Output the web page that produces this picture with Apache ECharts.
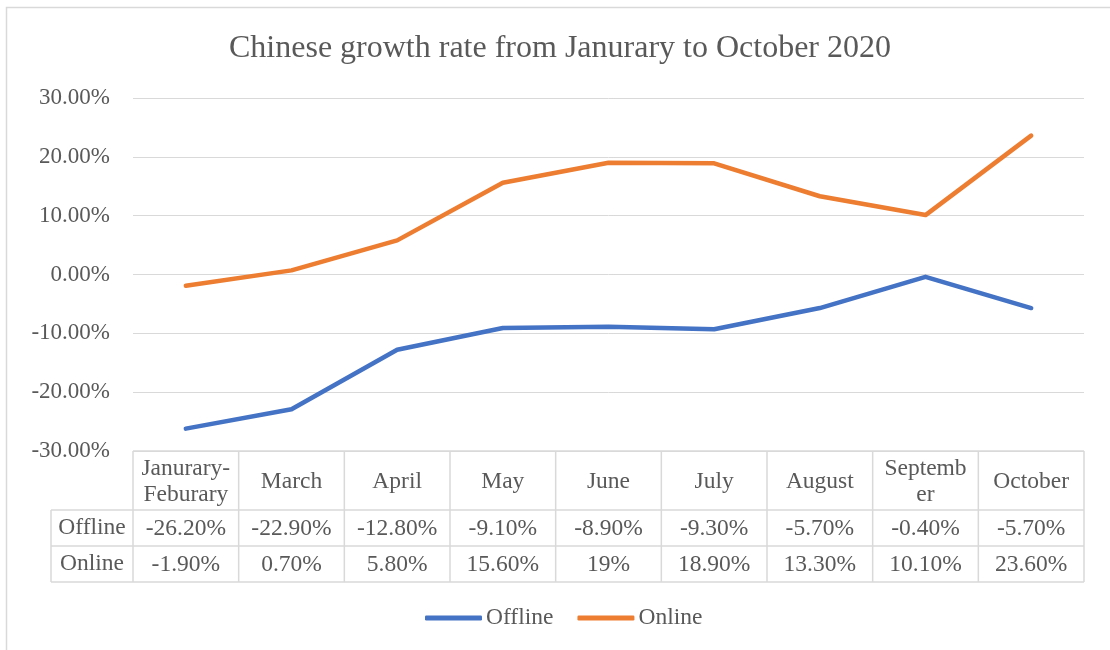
<!DOCTYPE html>
<html>
<head>
<meta charset="utf-8">
<script src="https://cdn.jsdelivr.net/npm/echarts@6/dist/echarts.min.js"></script>
<style>
  html, body { margin: 0; padding: 0; background: #fff; }
  #chart { width: 1110px; height: 650px; }
</style>
</head>
<body>
<div id="chart"></div>
<script>
// Months (Jan and Feb are reported together)
const categories = ['Janurary-Feburary', 'March', 'April', 'May', 'June', 'July', 'August', 'September', 'October'];
// Header text as it wraps inside the table cells
const headerLabels = ['Janurary-\nFeburary', 'March', 'April', 'May', 'June', 'July', 'August', 'Septemb\ner', 'October'];
// Year-on-year growth rate, percent
const offline = [-26.2, -22.9, -12.8, -9.1, -8.9, -9.3, -5.7, -0.4, -5.7];
const online = [-1.9, 0.7, 5.8, 15.6, 19, 18.9, 13.3, 10.1, 23.6];
const seriesNames = ['Offline', 'Online'];
const yTicks = { min: -30, max: 30, step: 10 };

const FONT = "'Liberation Serif', 'Times New Roman', serif";
const TEXT = '#595959';
const GRID_LINE = '#D9D9D9';
const COLORS = ['#4472C4', '#ED7D31'];
const TABLE_FONT = 23.5;

function pct(v) {
  return Number.isInteger(v) ? v + '%' : v.toFixed(2) + '%';
}

const chart = echarts.init(document.getElementById('chart'), null, { renderer: 'canvas' });

const option = {
  animation: false,
  backgroundColor: '#fff',
  title: {
    text: 'Chinese growth rate from Janurary to October 2020',
    left: 555,
    top: 28,
    textAlign: 'center',
    textStyle: { fontFamily: FONT, fontSize: 32, fontWeight: 'normal', color: TEXT }
  },
  grid: { left: 133, right: 26, top: 98, bottom: 199 },
  xAxis: {
    type: 'category',
    data: categories,
    boundaryGap: true,
    axisLine: { show: false },
    axisTick: { show: false },
    axisLabel: { show: false }
  },
  yAxis: {
    type: 'value',
    min: yTicks.min,
    max: yTicks.max,
    interval: yTicks.step,
    axisLine: { show: false },
    axisTick: { show: false },
    axisLabel: {
      margin: 23,
      fontFamily: FONT,
      fontSize: 23,
      color: TEXT,
      formatter: v => v.toFixed(2) + '%'
    },
    splitLine: { lineStyle: { color: GRID_LINE, width: 1 } }
  },
  legend: {
    data: seriesNames,
    left: 420,
    top: 601,
    icon: 'roundRect',
    itemWidth: 57,
    itemHeight: 5,
    itemGap: 24,
    textStyle: { fontFamily: FONT, fontSize: 23.5, color: TEXT, padding: [0, 0, 0, -1] }
  },
  series: [
    {
      name: seriesNames[0], type: 'line', data: offline, symbol: 'none',
      lineStyle: { color: COLORS[0], width: 4.5, cap: 'round', join: 'round' },
      itemStyle: { color: COLORS[0] }
    },
    {
      name: seriesNames[1], type: 'line', data: online, symbol: 'none',
      lineStyle: { color: COLORS[1], width: 4.5, cap: 'round', join: 'round' },
      itemStyle: { color: COLORS[1] }
    }
  ]
};

chart.setOption(option);

// Data table under the plot, aligned with the category bands
function buildTable() {
  const n = categories.length;
  const c0 = chart.convertToPixel({ xAxisIndex: 0 }, 0);
  const c1 = chart.convertToPixel({ xAxisIndex: 0 }, 1);
  const bw = c1 - c0;
  const left = c0 - bw / 2;
  const right = left + bw * n;
  const top = chart.convertToPixel({ yAxisIndex: 0 }, yTicks.min);
  const headerH = 59, rowH = 36;
  const keyLeft = 51;
  const rows = [top, top + headerH, top + headerH + rowH, top + headerH + 2 * rowH];
  const lineStyle = { stroke: GRID_LINE, lineWidth: 1.5 };
  const els = [];

  // outer chart border
  els.push({ type: 'rect', shape: { x: 6.5, y: 7.5, width: 1200, height: 700 },
    style: { fill: null, stroke: GRID_LINE, lineWidth: 1.5 }, silent: true });

  // horizontal rules
  els.push({ type: 'line', shape: { x1: left, y1: rows[0], x2: right, y2: rows[0] }, style: lineStyle });
  for (let r = 1; r < rows.length; r++) {
    els.push({ type: 'line', shape: { x1: keyLeft, y1: rows[r], x2: right, y2: rows[r] }, style: lineStyle });
  }
  // vertical rules
  els.push({ type: 'line', shape: { x1: keyLeft, y1: rows[1], x2: keyLeft, y2: rows[3] }, style: lineStyle });
  for (let i = 0; i <= n; i++) {
    const x = left + bw * i;
    els.push({ type: 'line', shape: { x1: x, y1: rows[0], x2: x, y2: rows[3] }, style: lineStyle });
  }

  const txt = (x, y, s) => ({
    type: 'text', x, y,
    style: { text: s, fontFamily: FONT, fontSize: TABLE_FONT, fill: TEXT, align: 'center', verticalAlign: 'middle', lineHeight: 26 }
  });

  // row keys
  els.push(txt((keyLeft + left) / 2, (rows[1] + rows[2]) / 2, seriesNames[0]));
  els.push(txt((keyLeft + left) / 2, (rows[2] + rows[3]) / 2, seriesNames[1]));

  for (let i = 0; i < n; i++) {
    const cx = chart.convertToPixel({ xAxisIndex: 0 }, i);
    els.push(txt(cx, (rows[0] + rows[1]) / 2 + 1, headerLabels[i]));
    els.push(txt(cx, (rows[1] + rows[2]) / 2 + 1, pct(offline[i])));
    els.push(txt(cx, (rows[2] + rows[3]) / 2 + 1, pct(online[i])));
  }

  chart.setOption({ graphic: { elements: els } });
}
buildTable();
</script>
</body>
</html>
